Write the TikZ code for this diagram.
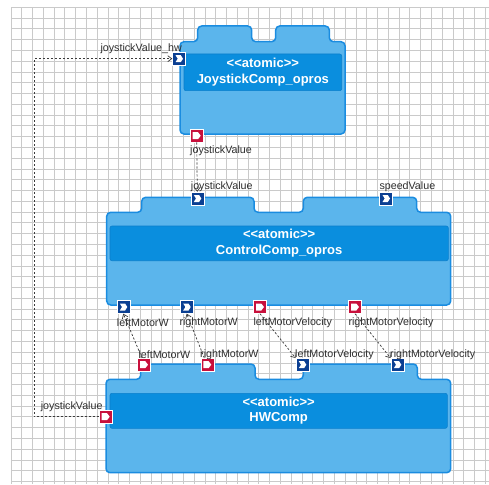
\documentclass[tikz,border=0pt]{standalone}
\usepackage{fontspec}
\setmainfont{Liberation Sans}
\usetikzlibrary{arrows.meta,calc}

\definecolor{gridgray}{HTML}{CACACA}
\definecolor{bodyfill}{HTML}{5BB5EC}
\definecolor{bodyedge}{HTML}{1A8CE0}
\definecolor{bandfill}{HTML}{0A8EDE}
\definecolor{bandedge}{HTML}{0A7FCC}
\definecolor{portblue}{HTML}{0B3F92}
\definecolor{portred}{HTML}{C8103C}
\definecolor{linkgray}{HTML}{3A3A3A}
\definecolor{labelgray}{HTML}{2E2E2E}

\tikzset{
  gridline/.style={draw=gridgray, line width=0.9pt},
  compbody/.style={fill=bodyfill, draw=bodyedge, line width=1.5pt, rounded corners=4pt},
  band/.style={rectangle, fill=bandfill, draw=bandedge, line width=0.6pt, rounded corners=2pt,
    text=white, align=center, inner sep=0pt, font=\fontsize{13}{15.5}\selectfont\bfseries},
  portsq/.style={rectangle, minimum size=13pt, inner sep=0pt, draw=white, line width=0.4pt},
  inport/.style={portsq, fill=portblue,
    path picture={\fill[white, shift={(path picture bounding box.center)}]
      (-3.5,-3.5) -- (1.8,-3.5) -- (4,0) -- (1.8,3.5) -- (-3.5,3.5) -- (-1.3,0) -- cycle;}},
  outport/.style={portsq, fill=portred,
    path picture={\fill[white, shift={(path picture bounding box.center)}]
      (-4,-3.5) -- (1.3,-3.5) -- (4,0) -- (1.3,3.5) -- (-4,3.5) -- cycle;}},
  plabel/.style={inner sep=0pt, text=labelgray, font=\fontsize{10.7}{12}\selectfont},
  link/.style={draw=linkgray, line width=0.7pt, dash pattern=on 2.2pt off 1.8pt,
    -{Straight Barb[length=4pt,width=6pt]}},
}

% stereotype line of a component title
\newcommand\stereo{<{}<atomic>{}>}

% component outline with two tabs on top
% #1 left, #2 right, #3 body top, #4 bottom, #5 tab top, #6-#7 first tab, #8-#9 second tab
\newcommand\compshape[9]{%
  \path[compbody] (#1,#4) -- (#1,#3) -- (#6,#3) -- (#6,#5) -- (#7,#5) -- (#7,#3)
    -- (#8,#3) -- (#8,#5) -- (#9,#5) -- (#9,#3) -- (#2,#3) -- (#2,#4) -- cycle;}

\begin{document}
\begin{tikzpicture}[x=1pt, y=-1pt]
\useasboundingbox (0,0) rectangle (489,484);
\fill[white] (0,0) rectangle (489,484);

% background grid
\foreach \i in {0,...,44} {
  \draw[gridline] ({11+\i*10.78},7.3) -- ({11+\i*10.78},484);
  \draw[gridline] (11,{7.3+\i*10.78}) -- (489,{7.3+\i*10.78});
}

% JoystickComp_opros
\compshape{180}{345}{41.7}{134}{26}{197.7}{251.7}{275.7}{329.3}
\node[band, minimum width=157.7pt, minimum height=36.7pt] (jsband) at (262.85,72.35)
  {\stereo\\JoystickComp\_opros};
\node[inport]  (jshw) at (179,58.7) {};
\node[outport] (jsv)  at (196.7,135.7) {};
\node[plabel, anchor=east] (jshwlbl) at (182,48.5) {joystickValue\_hw};
\node[plabel, anchor=west] (jsvlbl) at (190,150.7) {joystickValue};

% ControlComp_opros
\compshape{106.7}{450.7}{212.3}{305}{197.3}{141.7}{254}{303.3}{416.7}
\node[band, minimum width=338.3pt, minimum height=34.7pt] (ctband) at (279.15,243.35)
  {\stereo\\ControlComp\_opros};
\node[inport]  (ctjs) at (197.3,198.5) {};
\node[inport]  (ctsp) at (386,198.5) {};
\node[inport]  (ctlw) at (123.3,307) {};
\node[inport]  (ctrw) at (186.7,307) {};
\node[outport] (ctlv) at (260,307) {};
\node[outport] (ctrv) at (355,307) {};
\node[plabel, anchor=west] (ctjslbl) at (190.7,186.7) {joystickValue};
\node[plabel, anchor=west] (ctsplbl) at (379.3,186.7) {speedValue};
\node[plabel, anchor=west] (ctlwlbl) at (116.7,322.3) {leftMotorW};
\node[plabel, anchor=west] (ctrwlbl) at (179.3,322.3) {rightMotorW};
\node[plabel, anchor=west] (ctlvlbl) at (253.3,322.3) {leftMotorVelocity};
\node[plabel, anchor=west] (ctrvlbl) at (348.3,322.3) {rightMotorVelocity};

% HWComp
\compshape{106}{450.7}{379.3}{472.7}{364}{140.7}{255}{303.3}{417.3}
\node[band, minimum width=337.3pt, minimum height=35pt] (hwband) at (278.65,410.8)
  {\stereo\\HWComp};
\node[outport] (hwlw) at (144,364.7) {};
\node[outport] (hwrw) at (207.3,364.7) {};
\node[inport]  (hwlv) at (302.3,364.7) {};
\node[inport]  (hwrv) at (397.3,364.7) {};
\node[outport] (hwjs) at (105.7,416.7) {};
\node[plabel, anchor=west] (hwlwlbl) at (138.3,354.3) {leftMotorW};
\node[plabel, anchor=west] (hwrwlbl) at (200,354.3) {rightMotorW};
\node[plabel, anchor=west] (hwlvlbl) at (295,354.3) {leftMotorVelocity};
\node[plabel, anchor=west] (hwrvlbl) at (390,354.3) {rightMotorVelocity};
\node[plabel, anchor=east] (hwjslbl) at (102.7,406.7) {joystickValue};

% connectors
\coordinate (loopx) at (34,0);
\draw[link] (hwjs.west) -| (loopx |- jshw.west) -- (jshw.west);
\draw[link] (jsv.south) -- (ctjs.north);
\draw[link] ($(hwlw.north)+(-2,0)$) -- (ctlw.south);
\draw[link] ($(hwrw.north)+(-3,0)$) -- (ctrw.south);
\draw[link] (ctlv.south) -- (hwlv.north west);
\draw[link] (ctrv.south) -- (hwrv.north west);
\end{tikzpicture}
\end{document}
